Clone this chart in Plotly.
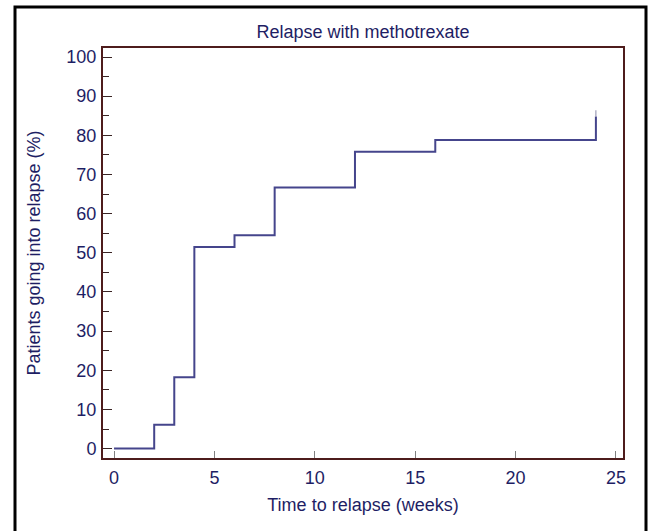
import plotly.graph_objects as go

# Data
weeks = [0, 2, 3, 4, 6, 8, 12, 16, 24]
relapse_pct = [0, 6.1, 18.2, 51.5, 54.5, 66.7, 75.8, 78.8, 84.8]
tail_weeks = [24, 24]
tail_pct = [84.8, 86.4]

x_ticks = [0, 5, 10, 15, 20, 25]
y_ticks = [0, 10, 20, 30, 40, 50, 60, 70, 80, 90, 100]

NAVY = "#1e1e64"
LINE = "#45458c"
BORDER = "#4e1c1c"
FONT = "Liberation Sans, Arial, sans-serif"
FS = 18

fig = go.Figure()
fig.add_trace(go.Scatter(x=weeks, y=relapse_pct, mode="lines",
                         line=dict(shape="hv", color=LINE, width=2),
                         showlegend=False, hoverinfo="x+y"))
fig.add_trace(go.Scatter(x=tail_weeks, y=tail_pct, mode="lines",
                         line=dict(color="#8a8aa8", width=1),
                         showlegend=False, hoverinfo="skip"))

L, R, T, B = 103, 623, 48, 458
W, H = 648, 531

def px(xp):
    return (xp - L) / (R - L)

def py(yp):
    return (B - yp) / (B - T)

fig.update_layout(
    width=W, height=H,
    margin=dict(l=L, r=W - R, t=T, b=H - B, pad=0),
    paper_bgcolor="white", plot_bgcolor="white",
    font=dict(family=FONT, size=FS, color=NAVY),
    title=dict(text="Relapse with methotrexate", x=(L + R) / 2 / W, xanchor="center",
               y=1 - 32 / H, yanchor="middle", font=dict(size=FS, color=NAVY, family=FONT)),
    xaxis=dict(range=[-0.55, 25.35], tickvals=x_ticks, ticks="inside", ticklen=7,
               tickcolor="#808080", tickwidth=1, showgrid=False, zeroline=False,
               showline=True, mirror=True, linecolor=BORDER, linewidth=2,
               ticklabelstandoff=2,
               title=dict(text="Time to relapse (weeks)", standoff=12,
                          font=dict(size=FS, color=NAVY))),
    yaxis=dict(range=[-2.4, 102.3], tickvals=y_ticks, ticks="inside", ticklen=9,
               tickcolor="#3a2424", tickwidth=1, showgrid=False, zeroline=False,
               showline=True, mirror=True, linecolor=BORDER, linewidth=2,
               ticklabelstandoff=1,
               minor=dict(dtick=5, ticks="inside", ticklen=6, tickcolor="#3a2424", tickwidth=1),
               title=dict(text="Patients going into relapse (%)", standoff=21,
                          font=dict(size=FS, color=NAVY))),
    shapes=[dict(type="rect", xref="paper", yref="paper",
                 x0=px(15), x1=px(646), y0=py(545), y1=py(7),
                 line=dict(color="black", width=3), layer="below")],
)

fig.write_html("out.html", config={"displayModeBar": False},
               post_script="document.body.style.margin='0';document.body.style.overflow='hidden';")
